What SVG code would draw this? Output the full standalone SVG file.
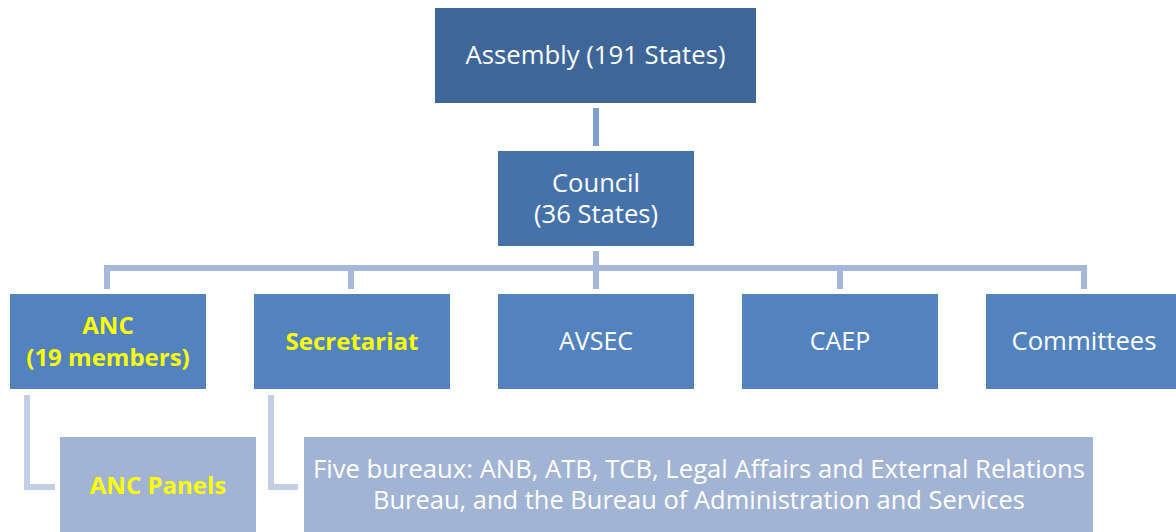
<svg xmlns="http://www.w3.org/2000/svg" width="1176" height="532" viewBox="0 0 1176 532">
<style>
.t{font-family:"Open Sans","Noto Sans",sans-serif;font-size:25px;fill:#ffffff;text-anchor:middle}
.y{fill:#ffff00;font-weight:bold;font-size:24px}
.c1{stroke:#7f9fcd;stroke-width:6;fill:none}
.c2{stroke:#a5b8d9;stroke-width:6;fill:none}
.c3{stroke:#c3cfe4;stroke-width:6;fill:none}
</style>
<rect width="1176" height="532" fill="#ffffff"/>
<g id="connectors">
<line class="c1" x1="596" y1="108" x2="596" y2="146"/>
<path class="c2" d="M596 251 V268 M107 289 V268 H1084 V289 M351 268 V289 M596 268 V289 M840 268 V289"/>
<path class="c3" d="M27 395 V487 H55"/>
<path class="c3" d="M271 395 V487 H298"/>
</g>
<g id="assembly">
<rect x="435" y="8" width="321" height="95" fill="#3e6698"/>
<text class="t" x="595.5" y="64" textLength="260" lengthAdjust="spacingAndGlyphs">Assembly (191 States)</text>
</g>
<g id="council">
<rect x="498" y="151" width="196" height="95" fill="#4672aa"/>
<text class="t" x="596" y="192" textLength="88" lengthAdjust="spacingAndGlyphs">Council</text>
<text class="t" x="596" y="223" textLength="124" lengthAdjust="spacingAndGlyphs">(36 States)</text>
</g>
<g id="anc">
<rect x="10" y="294" width="196" height="95" fill="#5283be"/>
<text class="t y" x="108" y="334">ANC</text>
<text class="t y" x="108" y="366">(19 members)</text>
</g>
<g id="secretariat">
<rect x="254" y="294" width="196" height="95" fill="#5283be"/>
<text class="t y" x="352" y="350">Secretariat</text>
</g>
<g id="avsec">
<rect x="498" y="294" width="196" height="95" fill="#5283be"/>
<text class="t" x="596" y="350">AVSEC</text>
</g>
<g id="caep">
<rect x="742" y="294" width="196" height="95" fill="#5283be"/>
<text class="t" x="840" y="350">CAEP</text>
</g>
<g id="committees">
<rect x="986" y="294" width="196" height="95" fill="#5283be"/>
<text class="t" x="1084" y="350" textLength="145" lengthAdjust="spacingAndGlyphs">Committees</text>
</g>
<g id="anc-panels">
<rect x="60" y="437" width="196" height="100" fill="#a2b4d4"/>
<text class="t y" x="158" y="494">ANC Panels</text>
</g>
<g id="bureaux">
<rect x="304" y="437" width="789" height="100" fill="#a2b4d4"/>
<text class="t" x="699" y="478" textLength="772" lengthAdjust="spacingAndGlyphs">Five bureaux: ANB, ATB, TCB, Legal Affairs and External Relations</text>
<text class="t" x="699" y="509" textLength="652" lengthAdjust="spacingAndGlyphs">Bureau, and the Bureau of Administration and Services</text>
</g>
</svg>
